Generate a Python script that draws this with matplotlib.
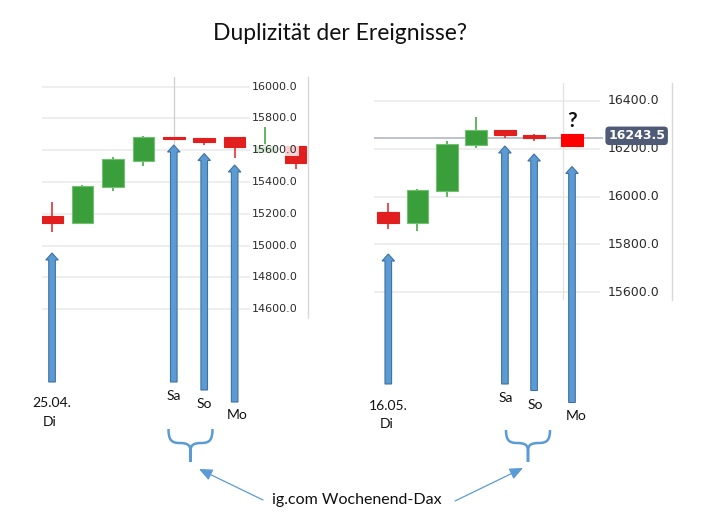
import matplotlib
matplotlib.use('Agg')
import matplotlib.pyplot as plt
from matplotlib.patches import FancyArrow, PathPatch
from matplotlib.path import Path

W, H, DPI = 711, 529, 100

# ---------------- data ----------------
title = "Duplizität der Ereignisse?"

# left chart (April 2023)
left_x     = [0, 1, 2, 3, 4, 5, 6, 7, 8]
left_open  = [15188, 15142, 15368, 15533, 15684, 15676, 15684, 15590, 15628]
left_close = [15142, 15375, 15546, 15684, 15670, 15651, 15621, 15630, 15519]
left_high  = [15272, 15383, 15557, 15690, 15684, 15676, 15684, 15747, 15628]
left_low   = [15086, 15142, 15341, 15504, 15670, 15634, 15554, 15590, 15483]
left_ticks = [14600, 14800, 15000, 15200, 15400, 15600, 15800, 16000]

# right chart (May 2023)
right_x     = [0, 1, 2, 3, 4, 5, 6.3]
right_open  = [15936, 15891, 16024, 16217, 16277, 16255, 16262]
right_close = [15891, 16028, 16220, 16277, 16256, 16244, 16213]
right_high  = [15972, 16032, 16232, 16333, 16277, 16260, 16262]
right_low   = [15864, 15858, 16000, 16202, 16246, 16232, 16213]
right_ticks = [15600, 15800, 16000, 16200, 16400]
right_last  = 16243.5

bottom_text = "ig.com Wochenend-Dax"

# ---------------- style ----------------
RED = '#e21f1f'
RED_BRIGHT = '#ff0000'
GREEN = '#3a9f3a'
GREEN_EDGE = '#72c072'
GRID = '#ebebeb'
BLUE = '#5b9bd5'
BLUE_EDGE = '#41719c'
FONT = ['Lato', 'DejaVu Sans']

fig = plt.figure(figsize=(W / DPI, H / DPI), dpi=DPI)
fig.patch.set_facecolor('white')


def px_axes(x0, y0, x1, y1):
    return fig.add_axes([x0 / W, 1 - y1 / H, (x1 - x0) / W, (y1 - y0) / H])


def candles(ax, xs, o, c, hi, lo, width, colors=None):
    for i, x in enumerate(xs):
        up = c[i] >= o[i]
        col = GREEN if up else RED
        if colors is not None and colors[i] is not None:
            col = colors[i]
        ax.vlines(x, lo[i], hi[i], color=col, lw=1.1, zorder=2)
        b = min(o[i], c[i])
        h = max(abs(c[i] - o[i]), 1)
        ax.bar(x, h, bottom=b, width=width, color=col,
               edgecolor=(GREEN_EDGE if up else col), linewidth=0.8, zorder=3)


def style_ax(ax):
    ax.set_facecolor('none')
    for s in ['top', 'left', 'bottom']:
        ax.spines[s].set_visible(False)
    ax.spines['right'].set_color('#d8d8d8')
    ax.spines['right'].set_linewidth(1.0)
    ax.set_xticks([])
    ax.set_yticks([])


# ---------------- left chart ----------------
axL = px_axes(42, 77, 308, 318)
style_ax(axL)
axL.set_xlim(-0.33, 8.41)
axL.set_ylim(14545, 16061)
for t in left_ticks:
    axL.hlines(t, -0.33, 6.5, color=GRID, lw=1.2, zorder=0)
    axL.text(6.57, t, f"{t:.1f}", fontsize=8, color='#2b2b2b', ha='left', va='center',
             family='DejaVu Sans', zorder=4,
             bbox=dict(boxstyle='square,pad=0.1', fc='white', ec='none', alpha=0.8))
axL.axvline(4, color='#cfcfcf', lw=0.9, zorder=1)
candles(axL, left_x, left_open, left_close, left_high, left_low, 0.71)

# ---------------- right chart ----------------
axR = px_axes(374, 83, 672, 300)
style_ax(axR)
axR.set_xlim(-0.49, 9.73)
axR.set_ylim(15568, 16474)
for t in right_ticks:
    axR.hlines(t, -0.49, 7.27, color=GRID, lw=1.2, zorder=0)
    axR.text(7.54, t, f"{t:.1f}", fontsize=9, color='#2b2b2b', ha='left', va='center',
             family='DejaVu Sans', zorder=4)
axR.axvline(6, color='#e2e2e2', lw=0.9, zorder=1)
axR.hlines(right_last, -0.49, 7.37, color='#b3b8c4', lw=1.2, zorder=1)
axR.text(7.54, right_last + 10, f"{right_last:.1f}", fontsize=9, color='white',
         fontweight='bold', ha='left', va='center', family='DejaVu Sans', zorder=6,
         bbox=dict(boxstyle='round,pad=0.22,rounding_size=0.3', fc='#4e5a76', ec='none'))
rcolors = [None] * (len(right_x) - 1) + [RED_BRIGHT]
candles(axR, right_x, right_open, right_close, right_high, right_low, 0.75, rcolors)

# ---------------- overlay (pixel coordinates, y from top) ----------------
ov = fig.add_axes([0, 0, 1, 1])
ov.set_xlim(0, W)
ov.set_ylim(H, 0)
ov.axis('off')
ov.set_zorder(10)
ov.patch.set_alpha(0)


def xpx(ax, i):
    return ov.transData.inverted().transform(ax.transData.transform((i, 0)))[0]


def blue_arrow(x, tip, bottom):
    ov.add_patch(FancyArrow(x, bottom, 0, tip - bottom, width=6.6, head_width=12.5,
                            head_length=7, length_includes_head=True,
                            fc=BLUE, ec=BLUE_EDGE, lw=0.8))


# arrows: (candle index, tip y px, bottom y px)
left_arrows = [(0, 253, 382), (4, 145, 382), (5, 153.5, 390), (6, 165, 402)]
right_arrows = [(0, 254, 384), (4, 146, 384), (5, 154, 390.5), (6.3, 166.5, 402.5)]
for i, tip, bot in left_arrows:
    blue_arrow(xpx(axL, i), tip, bot)
for i, tip, bot in right_arrows:
    blue_arrow(xpx(axR, i), tip, bot)

txt = dict(fontsize=10, color='#111111', family=FONT, ha='center', va='center')
# left labels
ov.text(xpx(axL, 0), 403, "25.04.", **txt)
ov.text(xpx(axL, 0) - 2, 422, "Di", **txt)
ov.text(xpx(axL, 4), 396, "Sa", **txt)
ov.text(xpx(axL, 5), 403.5, "So", **txt)
ov.text(xpx(axL, 6) + 3, 415, "Mo", **txt)
# right labels
ov.text(xpx(axR, 0), 405.5, "16.05.", **txt)
ov.text(xpx(axR, 0) - 2, 423.5, "Di", **txt)
ov.text(xpx(axR, 4) + 1, 397.5, "Sa", **txt)
ov.text(xpx(axR, 5) + 1, 405, "So", **txt)
ov.text(xpx(axR, 6.3) + 4, 416.5, "Mo", **txt)

# question mark
ov.text(xpx(axR, 6.3), 121, "?", fontsize=15, fontweight='bold', color='#111111',
        family=FONT, ha='center', va='center')

# title
ov.text(340, 33, title, fontsize=16.5, color='#111111', family=FONT,
        ha='center', va='center')


def brace(cx, top, mid, bottom, hw):
    verts, codes = [], []
    for s in (-1, 1):
        a = cx + s * hw
        verts += [(a, top),
                  (a, mid - 3), (a - s * 3, mid), (cx + s * hw * 0.5, mid),
                  (cx + s * 3, mid), (cx, mid + 2), (cx, mid + 8),
                  (cx, bottom)]
        codes += [Path.MOVETO, Path.CURVE4, Path.CURVE4, Path.CURVE4,
                  Path.CURVE4, Path.CURVE4, Path.CURVE4, Path.LINETO]
    ov.add_patch(PathPatch(Path(verts, codes), fc='none', ec=BLUE, lw=1.8,
                           capstyle='butt'))


brace(190.5, 429, 443, 462, 22)
brace(528, 430, 443, 462, 22)

ov.text(357, 500, bottom_text, fontsize=11.5, color='#111111', family=FONT,
        ha='center', va='center')
ov.annotate('', xy=(199, 469), xytext=(263, 500),
            arrowprops=dict(arrowstyle='-|>,head_length=0.8,head_width=0.35',
                            color=BLUE, lw=0.9, shrinkA=0, shrinkB=0))
ov.annotate('', xy=(523, 468), xytext=(455, 501),
            arrowprops=dict(arrowstyle='-|>,head_length=0.8,head_width=0.35',
                            color=BLUE, lw=0.9, shrinkA=0, shrinkB=0))

fig.savefig('out.png', dpi=DPI, facecolor='white')
